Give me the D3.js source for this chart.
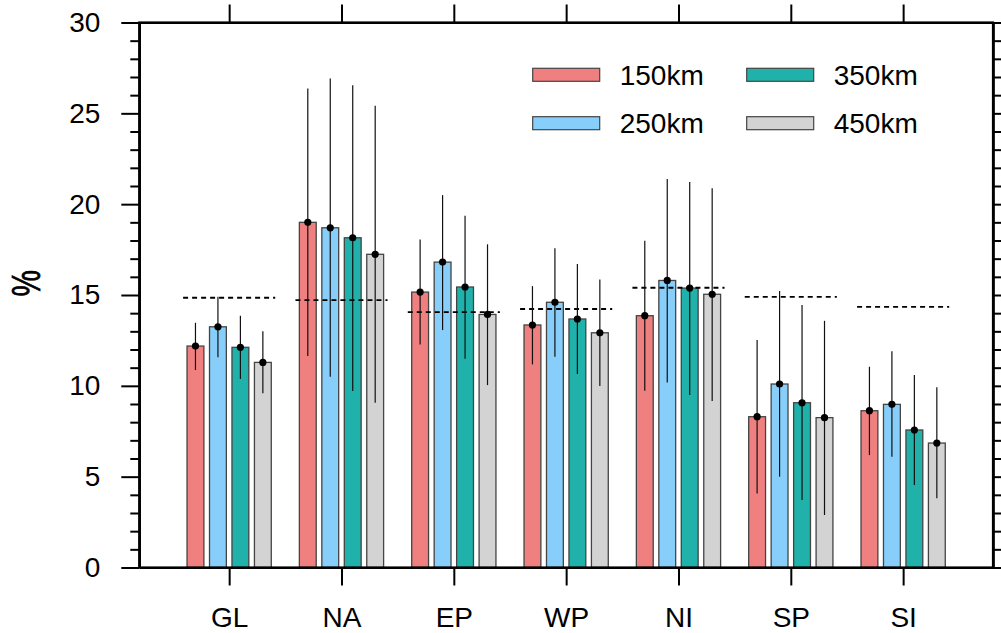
<!DOCTYPE html>
<html>
<head>
<meta charset="utf-8">
<script src="https://cdn.jsdelivr.net/npm/d3@7"></script>
<style>
  body { margin: 0; background: #fff; }
  text { font-family: "Liberation Sans", Arial, sans-serif; fill: #000; }
</style>
</head>
<body>
<div id="chart"></div>
<script>
const regions = ["GL", "NA", "EP", "WP", "NI", "SP", "SI"];
const seriesNames = ["150km", "250km", "350km", "450km"];
const seriesColors = ["#F08080", "#87CEFA", "#20B2AA", "#D3D3D3"];

// bar heights (mean, %)
const v150 = [12.19, 19.0, 15.16, 13.35, 13.86, 8.3, 8.63];
const v250 = [13.25, 18.7, 16.81, 14.6, 15.8, 10.1, 8.98];
const v350 = [12.12, 18.15, 15.44, 13.68, 15.38, 9.07, 7.57];
const v450 = [11.29, 17.24, 13.93, 12.92, 15.04, 8.25, 6.85];

// error bar ends
const hi150 = [13.47, 26.37, 18.06, 15.49, 17.99, 12.52, 11.05];
const lo150 = [10.87, 11.64, 12.28, 11.18, 9.73, 4.08, 6.19];
const hi250 = [14.9, 26.92, 20.5, 17.57, 21.38, 15.22, 11.9];
const lo250 = [11.57, 10.5, 13.07, 11.6, 10.19, 5.0, 6.1];
const hi350 = [13.86, 26.55, 19.36, 16.7, 21.22, 14.45, 10.6];
const lo350 = [10.37, 9.71, 11.49, 10.65, 9.49, 3.71, 4.54];
const hi450 = [13.0, 25.42, 17.79, 15.86, 20.87, 13.58, 9.92];
const lo450 = [9.59, 9.07, 10.04, 9.99, 9.16, 2.89, 3.81];

// dashed reference level per region
const refLevel = [14.85, 14.72, 14.06, 14.23, 15.4, 14.9, 14.35];

const yTicks = [0, 5, 10, 15, 20, 25, 30];

const means = [v150, v250, v350, v450];
const his = [hi150, hi250, hi350, hi450];
const los = [lo150, lo250, lo350, lo450];

const width = 1001, height = 633;
const plotL = 139.3, plotR = 993, plotT = 22.5, plotB = 567.5;

const svg = d3.select("#chart").append("svg")
  .attr("width", width)
  .attr("height", height);

const x = d3.scaleLinear().domain([0.2, 7.8]).range([plotL, plotR]);
const y = d3.scaleLinear().domain([0, 30]).range([plotB, plotT]);

const offsets = [-0.3, -0.1, 0.1, 0.3];
const barW = x(0.15) - x(0);

// bars
means.forEach((vals, s) => {
  svg.append("g").selectAll("rect")
    .data(vals)
    .enter()
    .append("rect")
    .attr("x", (d, i) => x(i + 1 + offsets[s]) - barW / 2)
    .attr("y", d => y(d))
    .attr("width", barW)
    .attr("height", d => y(0) - y(d))
    .attr("fill", seriesColors[s])
    .attr("stroke", "#444")
    .attr("stroke-width", 1.3);
});

// dashed reference lines
svg.append("g").selectAll("line")
  .data(refLevel)
  .enter()
  .append("line")
  .attr("x1", (d, i) => x(i + 1 - 0.41))
  .attr("x2", (d, i) => x(i + 1 + 0.41))
  .attr("y1", d => y(d))
  .attr("y2", d => y(d))
  .attr("stroke", "#000")
  .attr("stroke-width", 1.8)
  .attr("stroke-dasharray", "5,4");

// error bars and dots
means.forEach((vals, s) => {
  const g = svg.append("g");
  g.selectAll("line")
    .data(vals)
    .enter()
    .append("line")
    .attr("x1", (d, i) => x(i + 1 + offsets[s]))
    .attr("x2", (d, i) => x(i + 1 + offsets[s]))
    .attr("y1", (d, i) => y(his[s][i]))
    .attr("y2", (d, i) => y(los[s][i]))
    .attr("stroke", "#111")
    .attr("stroke-width", 1.2);
  g.selectAll("circle")
    .data(vals)
    .enter()
    .append("circle")
    .attr("cx", (d, i) => x(i + 1 + offsets[s]))
    .attr("cy", d => y(d))
    .attr("r", 3.6)
    .attr("fill", "#000");
});

// axes
const fmt = d3.format("d");
const minor = d3.range(0, 31, 1).filter(v => v % 5 !== 0);
const cats = regions.map((r, i) => i + 1);

svg.append("g").attr("transform", `translate(${plotL},0)`)
  .call(d3.axisLeft(y).tickValues(yTicks).tickFormat(fmt).tickSize(18).tickSizeOuter(0).tickPadding(21));
svg.append("g").attr("transform", `translate(${plotL},0)`)
  .call(d3.axisLeft(y).tickValues(minor).tickFormat("").tickSize(9).tickSizeOuter(0));

svg.append("g").attr("transform", `translate(${plotR},0)`)
  .call(d3.axisRight(y).tickValues(yTicks).tickFormat("").tickSize(18).tickSizeOuter(0));
svg.append("g").attr("transform", `translate(${plotR},0)`)
  .call(d3.axisRight(y).tickValues(minor).tickFormat("").tickSize(9).tickSizeOuter(0));

svg.append("g").attr("transform", `translate(0,${plotB})`)
  .call(d3.axisBottom(x).tickValues(cats).tickFormat((d, i) => regions[i]).tickSize(18).tickSizeOuter(0).tickPadding(22));
svg.append("g").attr("transform", `translate(0,${plotT})`)
  .call(d3.axisTop(x).tickValues(cats).tickFormat("").tickSize(18).tickSizeOuter(0));

svg.selectAll(".domain").attr("stroke", "#000").attr("stroke-width", 2.2);
svg.selectAll(".tick line").attr("stroke", "#000").attr("stroke-width", 2);
svg.selectAll(".tick text")
  .attr("font-family", "'Liberation Sans', Arial, sans-serif")
  .attr("font-size", 28)
  .style("font-size", "28px")
  .attr("fill", "#000");

// full frame
svg.append("rect")
  .attr("x", plotL).attr("y", plotT)
  .attr("width", plotR - plotL).attr("height", plotB - plotT)
  .attr("fill", "none").attr("stroke", "#000").attr("stroke-width", 2.2);

// y label
svg.append("text")
  .attr("transform", `translate(40,${y(15.65)}) rotate(-90) scale(0.93,1.25)`)
  .attr("text-anchor", "middle")
  .style("font-size", "32px")
  .attr("stroke", "#000")
  .attr("stroke-width", 0.6)
  .text("%");

// legend
const legend = svg.append("g");
const legPos = [[532.7, 68.3], [532.7, 116.7], [746.7, 68.3], [746.7, 116.7]];
seriesNames.forEach((name, s) => {
  const [lx, ly] = legPos[s];
  legend.append("rect")
    .attr("x", lx).attr("y", ly)
    .attr("width", 67).attr("height", 13)
    .attr("fill", seriesColors[s])
    .attr("stroke", "#444").attr("stroke-width", 1.2);
  legend.append("text")
    .attr("x", lx + 87).attr("y", ly + 16.7)
    .style("font-size", "28px")
    .text(name);
});
</script>
</body>
</html>
